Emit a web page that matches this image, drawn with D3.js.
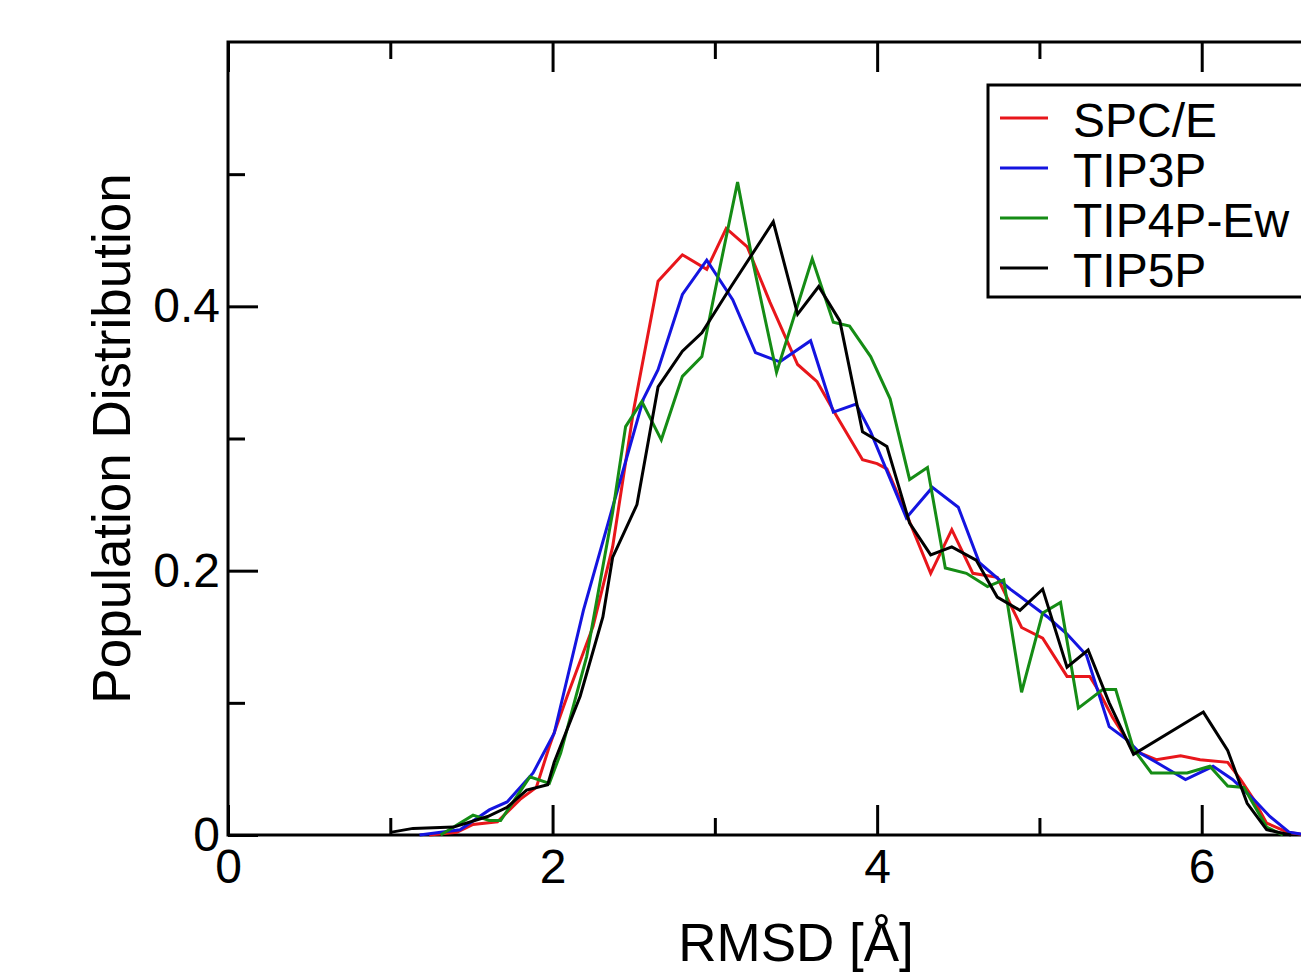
<!DOCTYPE html>
<html>
<head>
<meta charset="utf-8">
<script src="https://cdn.jsdelivr.net/npm/d3@7"></script>
<style>
  body { margin: 0; background: #fff; }
  svg { display: block; overflow: hidden; }
  text { font-family: "Liberation Sans", Arial, sans-serif; fill: #000; }
</style>
</head>
<body>
<div id="chart"></div>
<script>
// series: [RMSD, population]
var spce = [[1.24,0],[1.41,0.002],[1.51,0.008],[1.66,0.010],[1.80,0.027],[1.90,0.036],[1.98,0.067],[2.09,0.105],[2.25,0.158],[2.37,0.218],[2.50,0.322],[2.65,0.419],[2.80,0.439],[2.95,0.428],[3.07,0.459],[3.20,0.445],[3.34,0.403],[3.51,0.356],[3.63,0.343],[3.75,0.317],[3.91,0.284],[4.00,0.281],[4.06,0.277],[4.18,0.243],[4.33,0.198],[4.46,0.231],[4.59,0.198],[4.74,0.195],[4.89,0.157],[5.02,0.149],[5.17,0.120],[5.31,0.120],[5.37,0.108],[5.45,0.089],[5.58,0.064],[5.72,0.057],[5.87,0.060],[5.99,0.057],[6.16,0.055],[6.24,0.042],[6.32,0.027],[6.40,0.009],[6.53,0.002],[6.65,0]];
var tip3p = [[1.18,0],[1.43,0.004],[1.61,0.019],[1.72,0.025],[1.88,0.047],[2.01,0.077],[2.19,0.170],[2.37,0.248],[2.56,0.330],[2.65,0.352],[2.80,0.409],[2.95,0.435],[3.11,0.405],[3.25,0.365],[3.40,0.358],[3.59,0.374],[3.73,0.320],[3.87,0.326],[3.96,0.305],[4.18,0.240],[4.34,0.263],[4.50,0.248],[4.63,0.206],[4.82,0.186],[5.05,0.165],[5.17,0.152],[5.29,0.136],[5.43,0.082],[5.54,0.072],[5.62,0.062],[5.72,0.055],[5.90,0.042],[6.07,0.052],[6.19,0.042],[6.32,0.027],[6.42,0.014],[6.54,0.002],[6.65,0]];
var tip4pew = [[1.31,0],[1.51,0.015],[1.61,0.011],[1.68,0.011],[1.86,0.044],[1.98,0.039],[2.05,0.062],[2.21,0.135],[2.37,0.244],[2.45,0.309],[2.55,0.328],[2.67,0.299],[2.80,0.347],[2.92,0.362],[3.00,0.411],[3.14,0.494],[3.23,0.436],[3.38,0.350],[3.60,0.436],[3.73,0.388],[3.83,0.385],[3.96,0.362],[4.08,0.330],[4.20,0.269],[4.31,0.278],[4.42,0.202],[4.55,0.198],[4.68,0.188],[4.78,0.193],[4.89,0.108],[5.02,0.168],[5.13,0.176],[5.24,0.096],[5.39,0.110],[5.47,0.110],[5.58,0.065],[5.69,0.047],[5.91,0.047],[6.05,0.052],[6.16,0.037],[6.26,0.036],[6.40,0.006],[6.50,0]];
var tip5p = [[1.00,0.002],[1.14,0.005],[1.39,0.006],[1.60,0.014],[1.72,0.021],[1.84,0.034],[1.97,0.038],[2.01,0.055],[2.17,0.105],[2.31,0.165],[2.37,0.210],[2.52,0.250],[2.65,0.339],[2.80,0.366],[2.92,0.380],[3.10,0.415],[3.36,0.464],[3.51,0.394],[3.64,0.415],[3.77,0.389],[3.91,0.305],[3.98,0.300],[4.06,0.294],[4.20,0.236],[4.33,0.212],[4.46,0.218],[4.61,0.208],[4.74,0.180],[4.88,0.170],[5.02,0.186],[5.17,0.127],[5.30,0.140],[5.43,0.100],[5.58,0.061],[6.01,0.093],[6.16,0.064],[6.28,0.024],[6.40,0.004],[6.55,0]];

var seriesNames = ['SPC/E', 'TIP3P', 'TIP4P-Ew', 'TIP5P'];
var seriesColors = ['#e8161b', '#1414e0', '#158c15', '#000000'];

var xMajor = [0, 2, 4, 6];
var xMinor = [1, 3, 5];
var yMajor = [0, 0.2, 0.4];
var yMinor = [0.1, 0.3, 0.5];

var svgW = 1301, svgH = 975;
var plotL = 228, plotT = 42, plotR = 1364, plotB = 835;

var svg = d3.select('#chart').append('svg')
	.attr('width', svgW)
	.attr('height', svgH);

var x = d3.scaleLinear().domain([0, 7]).range([plotL, plotR]);
var y = d3.scaleLinear().domain([0, 0.6]).range([plotB, plotT]);

var fmt = function(d) { return d === 0 ? '0' : d3.format('.1f')(d); };

//Bottom axis, ticks pointing inward
svg.append('g').attr('transform', 'translate(0,' + plotB + ')')
	.call(d3.axisBottom(x).tickValues(xMajor).tickSizeInner(-30).tickSizeOuter(0).tickPadding(14).tickFormat(d3.format('d')));
svg.append('g').attr('transform', 'translate(0,' + plotB + ')')
	.call(d3.axisBottom(x).tickValues(xMinor).tickSizeInner(-17).tickSizeOuter(0).tickFormat(''));

//Top axis, no labels
svg.append('g').attr('transform', 'translate(0,' + plotT + ')')
	.call(d3.axisTop(x).tickValues(xMajor).tickSizeInner(-30).tickSizeOuter(0).tickFormat(''));
svg.append('g').attr('transform', 'translate(0,' + plotT + ')')
	.call(d3.axisTop(x).tickValues(xMinor).tickSizeInner(-17).tickSizeOuter(0).tickFormat(''));

//Left axis
svg.append('g').attr('transform', 'translate(' + plotL + ',0)')
	.call(d3.axisLeft(y).tickValues(yMajor).tickSizeInner(-30).tickSizeOuter(0).tickPadding(8).tickFormat(fmt));
svg.append('g').attr('transform', 'translate(' + plotL + ',0)')
	.call(d3.axisLeft(y).tickValues(yMinor).tickSizeInner(-17).tickSizeOuter(0).tickFormat(''));

//Right axis (mostly cut off by the window)
svg.append('g').attr('transform', 'translate(' + plotR + ',0)')
	.call(d3.axisRight(y).tickValues(yMajor).tickSizeInner(-30).tickSizeOuter(0).tickFormat(''));

svg.selectAll('.domain').remove();
svg.selectAll('.tick line').attr('stroke', '#000').attr('stroke-width', 3);
svg.selectAll('.tick text')
	.attr('font-family', '"Liberation Sans", Arial, sans-serif')
	.attr('font-size', '48px')
	.attr('fill', '#000');

// frame
svg.append('rect')
	.attr('x', plotL)
	.attr('y', plotT)
	.attr('width', plotR - plotL)
	.attr('height', plotB - plotT)
	.attr('fill', 'none')
	.attr('stroke', '#000')
	.attr('stroke-width', 3);

//Data lines
var line = d3.line()
	.x(function(d) { return x(d[0]); })
	.y(function(d) { return y(d[1]); });

var allSeries = [spce, tip3p, tip4pew, tip5p];
svg.append('g').selectAll('path')
	.data(allSeries)
	.enter()
	.append('path')
		.attr('d', line)
		.attr('fill', 'none')
		.attr('stroke', function(d, i) { return seriesColors[i]; })
		.attr('stroke-width', 3)
		.attr('stroke-linejoin', 'miter');

//Axis titles
svg.append('text')
	.attr('x', (plotL + plotR) / 2)
	.attr('y', 961)
	.attr('text-anchor', 'middle')
	.attr('font-size', '53px')
	.text('RMSD [Å]');

svg.append('text')
	.attr('transform', 'translate(130,' + ((plotT + plotB) / 2) + ') rotate(-90)')
	.attr('text-anchor', 'middle')
	.attr('font-size', '53px')
	.text('Population Distribution');

//Legend
var legend = svg.append('g');
legend.append('rect')
	.attr('x', 988)
	.attr('y', 85)
	.attr('width', 400)
	.attr('height', 212)
	.attr('fill', '#fff')
	.attr('stroke', '#000')
	.attr('stroke-width', 3);

var rowY = d3.scaleLinear().domain([0, 3]).range([118, 268]);
var rows = legend.selectAll('g.row')
	.data(seriesNames)
	.enter()
	.append('g')
	.attr('class', 'row')
	.attr('transform', function(d, i) { return 'translate(0,' + rowY(i) + ')'; });

rows.append('line')
	.attr('x1', 1000)
	.attr('x2', 1048)
	.attr('y1', 0)
	.attr('y2', 0)
	.attr('stroke', function(d, i) { return seriesColors[i]; })
	.attr('stroke-width', 3);

rows.append('text')
	.attr('x', 1073)
	.attr('y', 19)
	.attr('font-size', '48px')
	.text(function(d) { return d; });
</script>
</body>
</html>
